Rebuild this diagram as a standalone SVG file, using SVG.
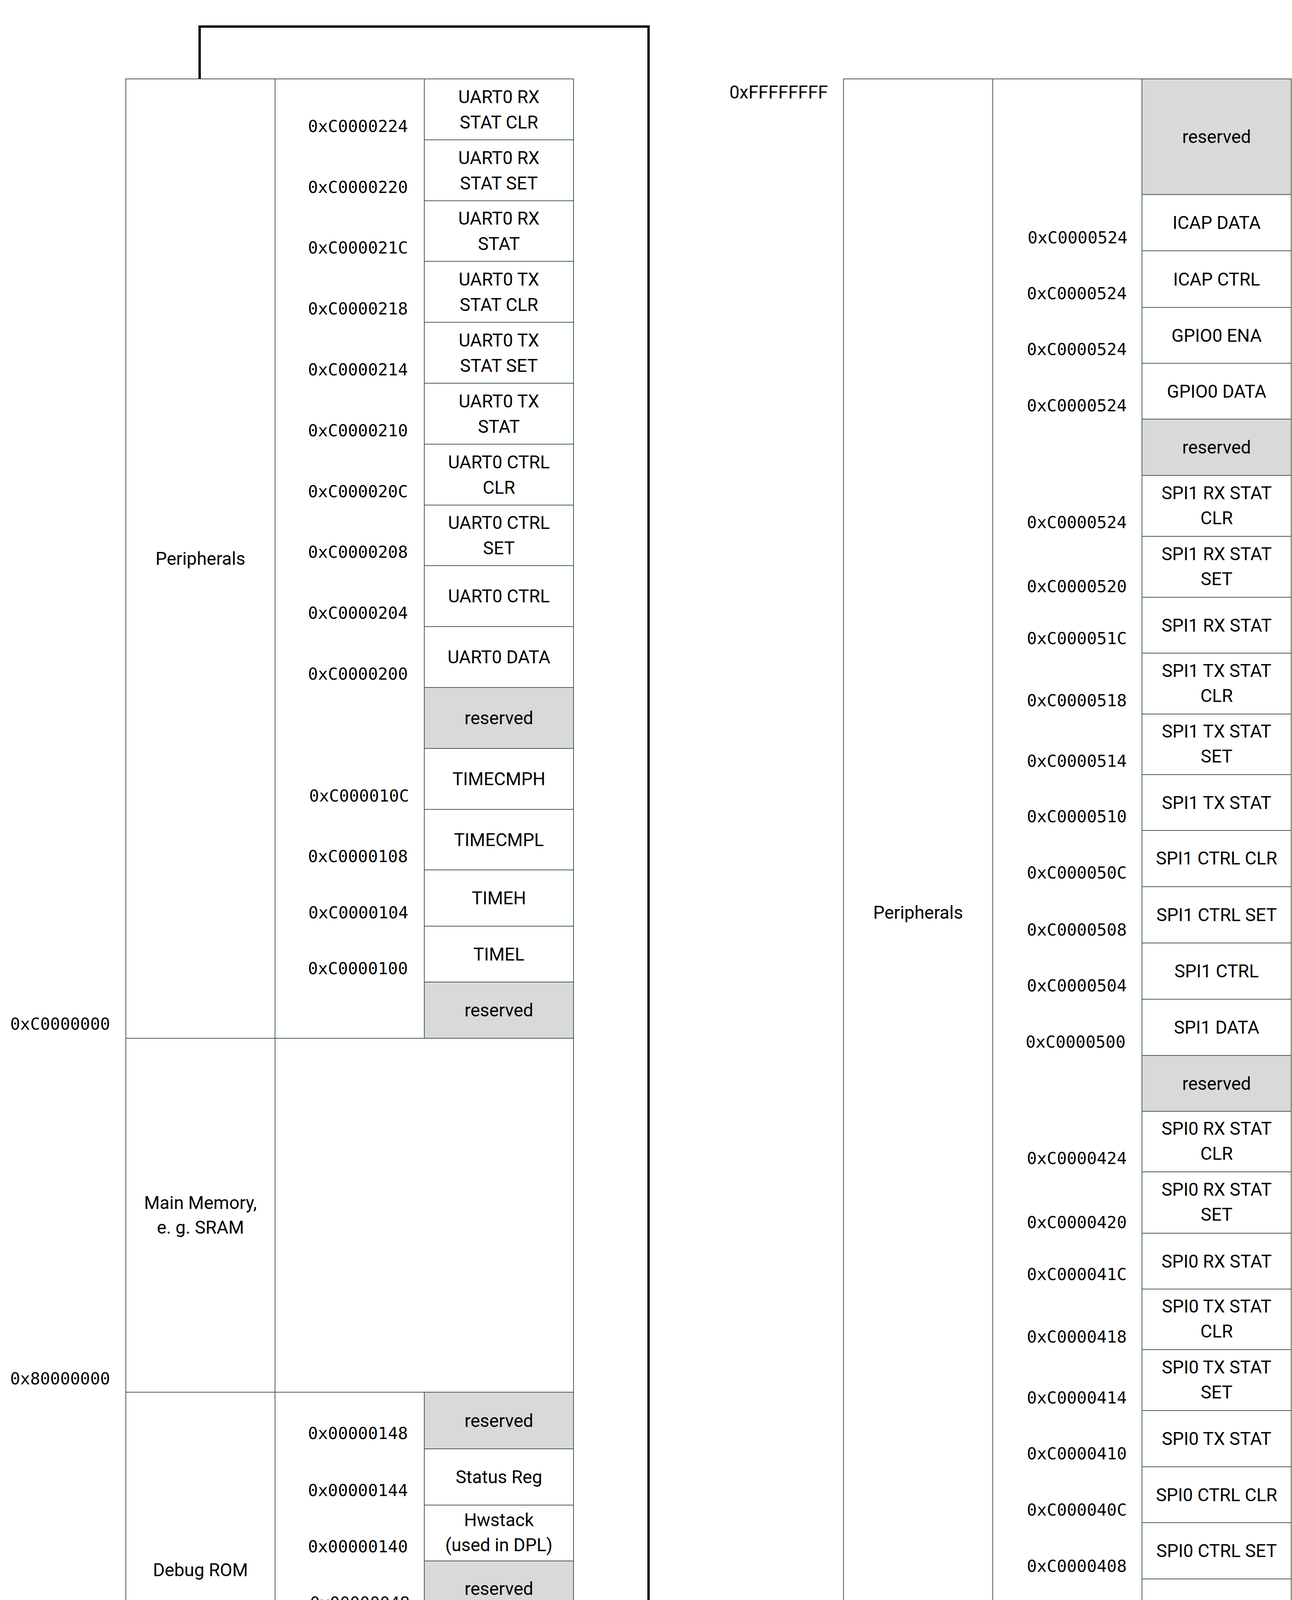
<svg xmlns="http://www.w3.org/2000/svg" width="3307" height="4677" viewBox="0 0 3307 4677">
<defs>
<style>
.col{fill:#fff;stroke:#42604f;stroke-width:2}
.cell{fill:#fff;stroke:#42604f;stroke-width:2}
.res{fill:#d9d9d9;stroke:#42604f;stroke-width:2}
.t{font-family:Roboto,"Liberation Sans",sans-serif;font-size:46px;text-anchor:middle;fill:#000}
.ts{font-family:Roboto,"Liberation Sans",sans-serif;font-size:46px;text-anchor:start;fill:#000}
.a{font-family:"DejaVu Sans Mono","Liberation Mono",monospace;font-size:42.5px;text-anchor:end;fill:#000}
.as{font-family:"DejaVu Sans Mono","Liberation Mono",monospace;font-size:42.5px;text-anchor:start;fill:#000}
.conn{fill:none;stroke:#000;stroke-width:6;stroke-linejoin:miter}
</style>
<marker id="arr" markerUnits="userSpaceOnUse" viewBox="0 0 70 46" refX="0" refY="23" markerWidth="70" markerHeight="46" orient="auto">
<path d="M0,0 L70,23 L0,46 z" fill="#000"/>
</marker>
</defs>
<rect width="3307" height="4677" fill="#fff"/>

<!-- LEFT MAP -->
<g id="left-peripherals">
<rect class="col" x="322" y="202" width="382" height="2456"/>
<rect class="col" x="704" y="202" width="382" height="2456"/>
<text class="t" x="513" y="1446">Peripherals</text>
</g>
<g id="left-main-memory">
<rect class="col" x="322" y="2658" width="382" height="906"/>
<rect class="col" x="704" y="2658" width="764" height="906"/>
<text class="t" x="513" y="3095">Main Memory,</text>
<text class="t" x="513" y="3158">e. g. SRAM</text>
</g>
<g id="left-debug-rom">
<rect class="col" x="322" y="3564" width="382" height="909"/>
<rect class="col" x="704" y="3564" width="382" height="909"/>
<text class="t" x="513" y="4035">Debug ROM</text>
</g>

<g id="left-base-labels">
<text class="as" x="26" y="2636">0xC0000000</text>
<text class="as" x="26" y="3544">0x80000000</text>
<text class="as" x="26" y="4447">0x00000000</text>
</g>

<g id="uart0-rx-stat-clr"><rect class="cell" x="1086" y="202" width="382" height="156"/><text class="t" x="1277" y="264">UART0 RX</text><text class="t" x="1277" y="329">STAT CLR</text><text class="a" x="1044" y="338">0xC0000224</text></g>
<g id="uart0-rx-stat-set"><rect class="cell" x="1086" y="358" width="382" height="156"/><text class="t" x="1277" y="420">UART0 RX</text><text class="t" x="1277" y="485">STAT SET</text><text class="a" x="1044" y="494">0xC0000220</text></g>
<g id="uart0-rx-stat"><rect class="cell" x="1086" y="514" width="382" height="155"/><text class="t" x="1277" y="575">UART0 RX</text><text class="t" x="1277" y="640">STAT</text><text class="a" x="1044" y="649">0xC000021C</text></g>
<g id="uart0-tx-stat-clr"><rect class="cell" x="1086" y="669" width="382" height="156"/><text class="t" x="1277" y="731">UART0 TX</text><text class="t" x="1277" y="796">STAT CLR</text><text class="a" x="1044" y="805">0xC0000218</text></g>
<g id="uart0-tx-stat-set"><rect class="cell" x="1086" y="825" width="382" height="156"/><text class="t" x="1277" y="887">UART0 TX</text><text class="t" x="1277" y="952">STAT SET</text><text class="a" x="1044" y="961">0xC0000214</text></g>
<g id="uart0-tx-stat"><rect class="cell" x="1086" y="981" width="382" height="156"/><text class="t" x="1277" y="1043">UART0 TX</text><text class="t" x="1277" y="1108">STAT</text><text class="a" x="1044" y="1117">0xC0000210</text></g>
<g id="uart0-ctrl-clr"><rect class="cell" x="1086" y="1137" width="382" height="156"/><text class="t" x="1277" y="1199">UART0 CTRL</text><text class="t" x="1277" y="1264">CLR</text><text class="a" x="1044" y="1273">0xC000020C</text></g>
<g id="uart0-ctrl-set"><rect class="cell" x="1086" y="1293" width="382" height="155"/><text class="t" x="1277" y="1354">UART0 CTRL</text><text class="t" x="1277" y="1419">SET</text><text class="a" x="1044" y="1428">0xC0000208</text></g>
<g id="uart0-ctrl"><rect class="cell" x="1086" y="1448" width="382" height="156"/><text class="t" x="1277" y="1542">UART0 CTRL</text><text class="a" x="1044" y="1584">0xC0000204</text></g>
<g id="uart0-data"><rect class="cell" x="1086" y="1604" width="382" height="156"/><text class="t" x="1277" y="1698">UART0 DATA</text><text class="a" x="1044" y="1740">0xC0000200</text></g>
<g id="left-reserved-1"><rect class="res" x="1086" y="1760" width="382" height="156"/><text class="t" x="1277" y="1854">reserved</text></g>
<g id="timecmph"><rect class="cell" x="1086" y="1916" width="382" height="156"/><text class="t" x="1277" y="2010">TIMECMPH</text><text class="a" x="1047" y="2052">0xC000010C</text></g>
<g id="timecmpl"><rect class="cell" x="1086" y="2072" width="382" height="155"/><text class="t" x="1277" y="2166">TIMECMPL</text><text class="a" x="1044" y="2207">0xC0000108</text></g>
<g id="timeh"><rect class="cell" x="1086" y="2227" width="382" height="144"/><text class="t" x="1277" y="2315">TIMEH</text><text class="a" x="1045" y="2351">0xC0000104</text></g>
<g id="timel"><rect class="cell" x="1086" y="2371" width="382" height="143"/><text class="t" x="1277" y="2459">TIMEL</text><text class="a" x="1044" y="2494">0xC0000100</text></g>
<g id="left-reserved-2"><rect class="res" x="1086" y="2514" width="382" height="144"/><text class="t" x="1277" y="2602">reserved</text></g>

<g id="debug-reserved-1"><rect class="res" x="1086" y="3564" width="382" height="145"/><text class="t" x="1277" y="3653">reserved</text><text class="a" x="1044" y="3684">0x00000148</text></g>
<g id="status-reg"><rect class="cell" x="1086" y="3709" width="382" height="144"/><text class="t" x="1277" y="3797">Status Reg</text><text class="a" x="1044" y="3830">0x00000144</text></g>
<g id="hwstack"><rect class="cell" x="1086" y="3853" width="382" height="143"/><text class="t" x="1277" y="3907">Hwstack</text><text class="t" x="1277" y="3971">(used in DPL)</text><text class="a" x="1044" y="3974">0x00000140</text></g>
<g id="debug-reserved-2"><rect class="res" x="1086" y="3996" width="382" height="143"/><text class="t" x="1277" y="4083">reserved</text><text class="a" x="1049" y="4118">0x00000048</text></g>
<g id="program-buffer"><rect class="cell" x="1086" y="4139" width="382" height="190"/><text class="t" x="1277" y="4184">Program</text><text class="t" x="1277" y="4247">Buffer</text><text class="t" x="1277" y="4312">(progbuf)</text><text class="a" x="1044" y="4309">0x0000003C</text></g>
<g id="debug-parking-loop"><rect class="cell" x="1086" y="4329" width="382" height="144"/><text class="t" x="1277" y="4384">Debug Parking</text><text class="t" x="1277" y="4449">Loop (DPL)</text><text class="a" x="1044" y="4452">0x00000000</text></g>

<!-- RIGHT MAP -->
<g id="right-peripherals">
<rect class="col" x="2159" y="202" width="382" height="4271"/>
<rect class="col" x="2541" y="202" width="382" height="4271"/>
<text class="t" x="2350" y="2352">Peripherals</text>
<text class="ts" x="1867" y="252">0xFFFFFFFF</text>
</g>

<g id="right-reserved-top"><rect class="res" x="2923" y="202" width="382" height="296"/><text class="t" x="3114" y="366">reserved</text></g>
<g id="icap-data"><rect class="cell" x="2923" y="498" width="382" height="144"/><text class="t" x="3114" y="586">ICAP DATA</text><text class="a" x="2886" y="623">0xC0000524</text></g>
<g id="icap-ctrl"><rect class="cell" x="2923" y="642" width="382" height="145"/><text class="t" x="3114" y="731">ICAP CTRL</text><text class="a" x="2884" y="766">0xC0000524</text></g>
<g id="gpio0-ena"><rect class="cell" x="2923" y="787" width="382" height="143"/><text class="t" x="3114" y="875">GPIO0 ENA</text><text class="a" x="2884" y="909">0xC0000524</text></g>
<g id="gpio0-data"><rect class="cell" x="2923" y="930" width="382" height="143"/><text class="t" x="3114" y="1018">GPIO0 DATA</text><text class="a" x="2884" y="1053">0xC0000524</text></g>
<g id="right-reserved-1"><rect class="res" x="2923" y="1073" width="382" height="144"/><text class="t" x="3114" y="1161">reserved</text></g>
<g id="spi1-rx-stat-clr"><rect class="cell" x="2923" y="1217" width="382" height="156"/><text class="t" x="3114" y="1278">SPI1 RX STAT</text><text class="t" x="3114" y="1342">CLR</text><text class="a" x="2884" y="1352">0xC0000524</text></g>
<g id="spi1-rx-stat-set"><rect class="cell" x="2923" y="1373" width="382" height="156"/><text class="t" x="3114" y="1434">SPI1 RX STAT</text><text class="t" x="3114" y="1498">SET</text><text class="a" x="2884" y="1516">0xC0000520</text></g>
<g id="spi1-rx-stat"><rect class="cell" x="2923" y="1529" width="382" height="143"/><text class="t" x="3114" y="1617">SPI1 RX STAT</text><text class="a" x="2884" y="1649">0xC000051C</text></g>
<g id="spi1-tx-stat-clr"><rect class="cell" x="2923" y="1672" width="382" height="156"/><text class="t" x="3114" y="1733">SPI1 TX STAT</text><text class="t" x="3114" y="1797">CLR</text><text class="a" x="2884" y="1808">0xC0000518</text></g>
<g id="spi1-tx-stat-set"><rect class="cell" x="2923" y="1828" width="382" height="155"/><text class="t" x="3114" y="1888">SPI1 TX STAT</text><text class="t" x="3114" y="1952">SET</text><text class="a" x="2884" y="1963">0xC0000514</text></g>
<g id="spi1-tx-stat"><rect class="cell" x="2923" y="1983" width="382" height="143"/><text class="t" x="3114" y="2071">SPI1 TX STAT</text><text class="a" x="2884" y="2105">0xC0000510</text></g>
<g id="spi1-ctrl-clr"><rect class="cell" x="2923" y="2126" width="382" height="144"/><text class="t" x="3114" y="2213">SPI1 CTRL CLR</text><text class="a" x="2884" y="2249">0xC000050C</text></g>
<g id="spi1-ctrl-set"><rect class="cell" x="2923" y="2270" width="382" height="144"/><text class="t" x="3114" y="2358">SPI1 CTRL SET</text><text class="a" x="2884" y="2395">0xC0000508</text></g>
<g id="spi1-ctrl"><rect class="cell" x="2923" y="2414" width="382" height="144"/><text class="t" x="3114" y="2502">SPI1 CTRL</text><text class="a" x="2884" y="2538">0xC0000504</text></g>
<g id="spi1-data"><rect class="cell" x="2923" y="2558" width="382" height="144"/><text class="t" x="3114" y="2646">SPI1 DATA</text><text class="a" x="2881" y="2682">0xC0000500</text></g>
<g id="right-reserved-2"><rect class="res" x="2923" y="2702" width="382" height="143"/><text class="t" x="3114" y="2790">reserved</text></g>
<g id="spi0-rx-stat-clr"><rect class="cell" x="2923" y="2845" width="382" height="155"/><text class="t" x="3114" y="2905">SPI0 RX STAT</text><text class="t" x="3114" y="2969">CLR</text><text class="a" x="2884" y="2980">0xC0000424</text></g>
<g id="spi0-rx-stat-set"><rect class="cell" x="2923" y="3000" width="382" height="157"/><text class="t" x="3114" y="3061">SPI0 RX STAT</text><text class="t" x="3114" y="3125">SET</text><text class="a" x="2884" y="3144">0xC0000420</text></g>
<g id="spi0-rx-stat"><rect class="cell" x="2923" y="3157" width="382" height="143"/><text class="t" x="3114" y="3245">SPI0 RX STAT</text><text class="a" x="2884" y="3277">0xC000041C</text></g>
<g id="spi0-tx-stat-clr"><rect class="cell" x="2923" y="3300" width="382" height="155"/><text class="t" x="3114" y="3360">SPI0 TX STAT</text><text class="t" x="3114" y="3424">CLR</text><text class="a" x="2884" y="3437">0xC0000418</text></g>
<g id="spi0-tx-stat-set"><rect class="cell" x="2923" y="3455" width="382" height="156"/><text class="t" x="3114" y="3516">SPI0 TX STAT</text><text class="t" x="3114" y="3580">SET</text><text class="a" x="2884" y="3593">0xC0000414</text></g>
<g id="spi0-tx-stat"><rect class="cell" x="2923" y="3611" width="382" height="144"/><text class="t" x="3114" y="3699">SPI0 TX STAT</text><text class="a" x="2884" y="3736">0xC0000410</text></g>
<g id="spi0-ctrl-clr"><rect class="cell" x="2923" y="3755" width="382" height="143"/><text class="t" x="3114" y="3843">SPI0 CTRL CLR</text><text class="a" x="2884" y="3880">0xC000040C</text></g>
<g id="spi0-ctrl-set"><rect class="cell" x="2923" y="3898" width="382" height="144"/><text class="t" x="3114" y="3986">SPI0 CTRL SET</text><text class="a" x="2884" y="4024">0xC0000408</text></g>
<g id="spi0-ctrl"><rect class="cell" x="2923" y="4042" width="382" height="144"/><text class="t" x="3114" y="4130">SPI0 CTRL</text><text class="a" x="2884" y="4168">0xC0000404</text></g>
<g id="spi0-data"><rect class="cell" x="2923" y="4186" width="382" height="144"/><text class="t" x="3114" y="4274">SPI0 DATA</text><text class="a" x="2881" y="4311">0xC0000400</text></g>
<g id="right-reserved-3"><rect class="res" x="2923" y="4330" width="382" height="143"/><text class="t" x="3114" y="4418">reserved</text></g>

<g id="connectors">
<path class="conn" d="M511,202 V68 H1660 V4608 H2350 V4544" marker-end="url(#arr)"/>
</g>
</svg>
